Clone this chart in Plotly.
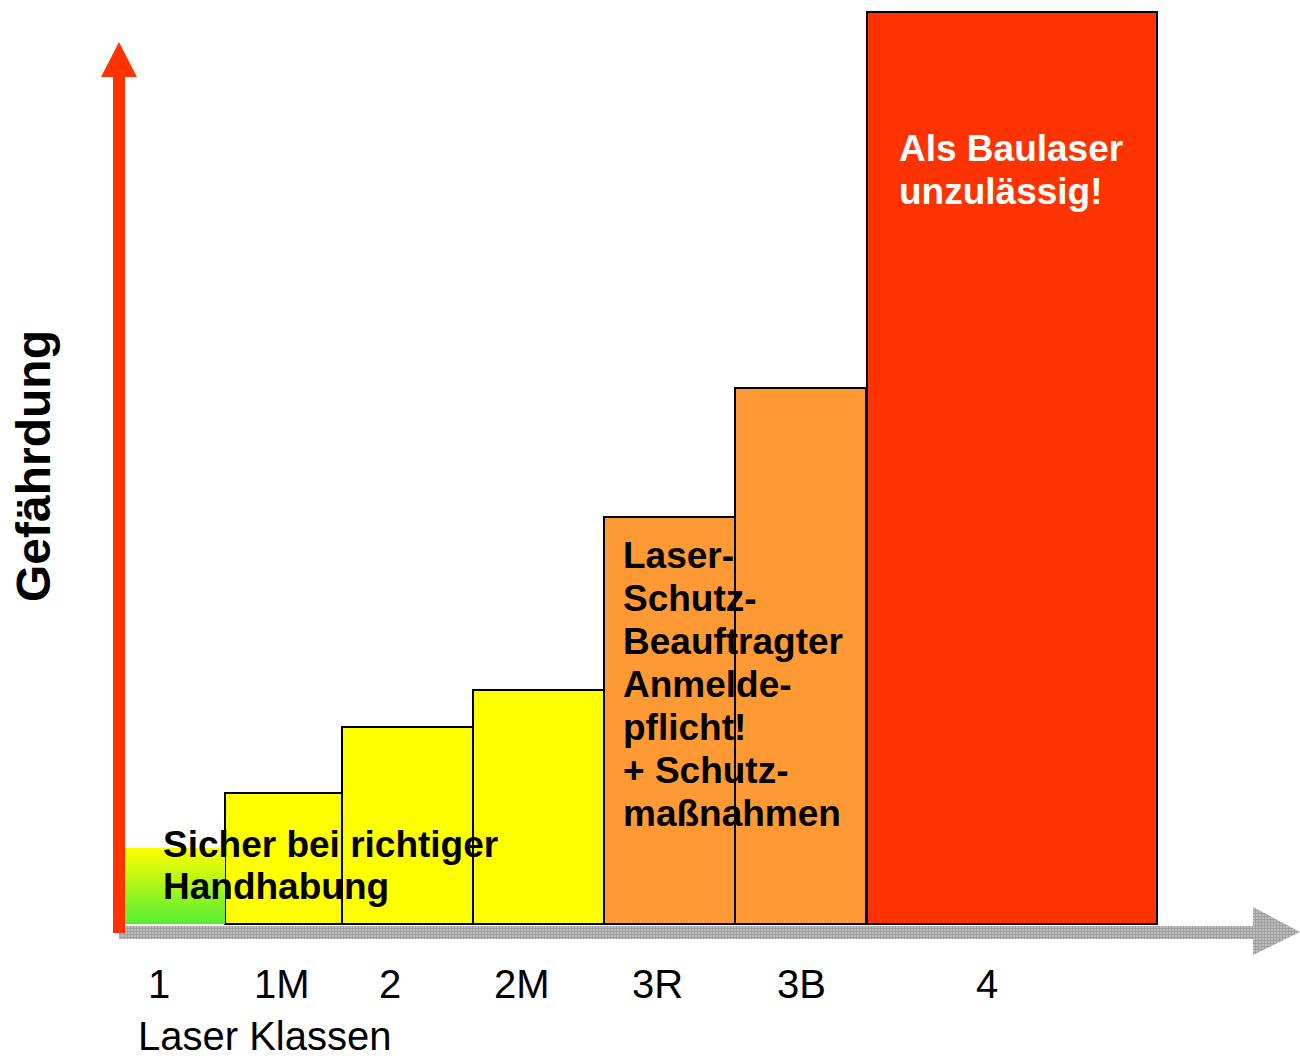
import plotly.graph_objects as go

# ---- data ----
classes = ["1", "1M", "2", "2M", "3R", "3B", "4"]
hazard = [76, 131, 197, 234, 407, 536, 912]          # Gefährdung (bar heights)
class_left = [124, 225, 342, 473, 604, 735, 867]     # class band edges on the x scale
class_right = [225, 342, 473, 604, 735, 866, 1157]
bar_colors = ["#FFFF00", "#FFFF00", "#FFFF00", "#FFFF00", "#FF9933", "#FF9933", "#FF3300"]
label_x = [159, 282, 390, 522, 657, 801, 987]

text_safe = ["Sicher bei richtiger", "Handhabung"]
text_3r = ["Laser-", "Schutz-", "Beauftragter", "Anmelde-", "pflicht!", "+ Schutz-", "maßnahmen"]
text_4 = ["Als Baulaser", "unzulässig!"]

W, H = 1300, 1059
BASE_PX = 924  # baseline pixel row
FONT = "Liberation Sans, Arial, sans-serif"

fig = go.Figure()


def py(p):
    """pixel row -> y data value"""
    return BASE_PX - p


# Class 1: gradient bar (yellow -> green)
l0, r0, h0 = class_left[0], class_right[0], hazard[0]
fig.add_trace(go.Scatter(
    x=[l0, r0, r0, l0, l0], y=[0, 0, h0, h0, 0],
    fill="toself", mode="lines", line=dict(width=0),
    fillgradient=dict(type="vertical", colorscale=[[0, "#55EE33"], [1, "#FFFF00"]]),
    hoverinfo="skip", showlegend=False,
))

# other classes as variable-width bars
centers = [(l + r) / 2 for l, r in zip(class_left, class_right)]
widths = [r - l for l, r in zip(class_left, class_right)]
fig.add_trace(go.Bar(
    x=centers[1:], y=hazard[1:], width=widths[1:], base=0,
    marker=dict(color=bar_colors[1:], line=dict(color="black", width=2)),
    showlegend=False, hoverinfo="skip",
))

# grey x-axis arrow (textured)
ax_x = [119, 1253, 1253, 1300, 1253, 1253, 119, 119]
ax_y = [py(926), py(926), py(907), py(932), py(955), py(939), py(939), py(926)]
fig.add_trace(go.Scatter(
    x=ax_x, y=ax_y, fill="toself", mode="lines", line=dict(width=0),
    fillcolor="#A0A0A0",
    fillpattern=dict(shape="+", size=3, solidity=0.5, bgcolor="#BDBDBD", fgcolor="#7A7A7A"),
    hoverinfo="skip", showlegend=False,
))

shapes = []
# red y-axis arrow
shapes.append(dict(
    type="path", xref="x", yref="y", layer="above",
    path=f"M 113 {py(933)} L 113 {py(77)} L 101 {py(77)} L 119 {py(42)} "
         f"L 137 {py(77)} L 125 {py(77)} L 125 {py(933)} Z",
    fillcolor="#FF3300", line=dict(width=0),
))

ann = []


def add_lines(lines, x, y0_px, dy, color, size):
    for i, t in enumerate(lines):
        ann.append(dict(
            x=x, y=py(y0_px + i * dy), xref="x", yref="y", text=f"<b>{t}</b>",
            showarrow=False, xanchor="left", yanchor="middle",
            font=dict(family=FONT, size=size, color=color),
        ))


add_lines(text_safe, 161, 844, 42, "black", 37)
add_lines(text_3r, 621, 555, 43, "black", 37)
add_lines(text_4, 897, 148, 43, "white", 37)

for lab, lx in zip(classes, label_x):
    ann.append(dict(
        x=lx, y=py(984), xref="x", yref="y", text=lab, showarrow=False,
        xanchor="center", yanchor="middle",
        font=dict(family=FONT, size=40, color="black"),
    ))

ann.append(dict(
    x=137, y=py(1059), xref="x", yref="y", text="Laser Klassen", showarrow=False,
    xanchor="left", yanchor="bottom", borderpad=0,
    font=dict(family=FONT, size=40, color="black"),
))
ann.append(dict(
    x=33, y=py(466), xref="x", yref="y", text="<b>Gefährdung</b>", showarrow=False,
    xanchor="center", yanchor="middle", textangle=-90,
    font=dict(family=FONT, size=48, color="black"),
))

fig.update_layout(
    width=W, height=H,
    margin=dict(l=0, r=0, t=0, b=0),
    paper_bgcolor="white", plot_bgcolor="white",
    xaxis=dict(range=[0, W], visible=False, fixedrange=True),
    yaxis=dict(range=[BASE_PX - H, BASE_PX], visible=False, fixedrange=True),
    shapes=shapes, annotations=ann, showlegend=False,
)

fig.write_html(
    "out.html",
    config={"displayModeBar": False},
    post_script="document.body.style.margin='0';document.body.style.overflow='hidden';",
)
